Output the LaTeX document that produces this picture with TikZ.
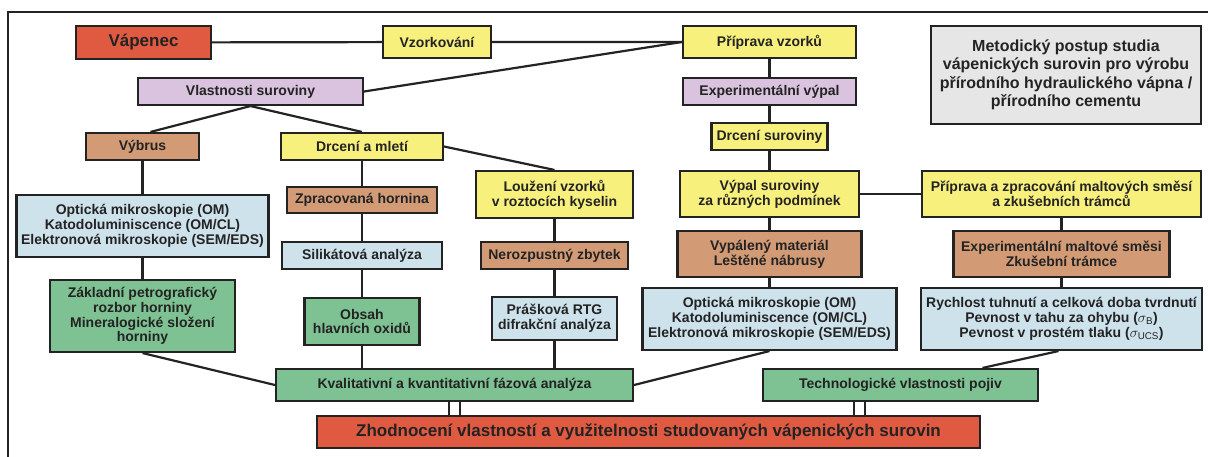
\documentclass[tikz,border=0pt]{standalone}
\usepackage{fontspec}
\setmainfont{Liberation Sans}
\usetikzlibrary{positioning}

\definecolor{redbox}{RGB}{224,90,66}
\definecolor{yelbox}{RGB}{248,240,125}
\definecolor{lilbox}{RGB}{217,195,222}
\definecolor{brnbox}{RGB}{210,155,118}
\definecolor{blubox}{RGB}{206,226,236}
\definecolor{grnbox}{RGB}{126,193,146}
\definecolor{grybox}{RGB}{230,230,230}
\definecolor{ink}{RGB}{35,35,35}

\tikzset{
  box/.style={draw=ink, line width=2.1pt, text=ink, align=center, inner sep=0pt,
    font=\bfseries\fontsize{14}{14.8}\selectfont},
  big/.style={font=\bfseries\fontsize{17}{18}\selectfont},
  link/.style={draw=ink, line width=2.2pt},
  twin/.style={draw=ink, double=white, double distance=8.5pt, line width=2pt}
}

\begin{document}
\begin{tikzpicture}[x=1pt,y=-1pt]
  \useasboundingbox (0,0) rectangle (1208,457);
  \fill[white] (0,0) rectangle (1208,457);
  \draw[ink, line width=2.2pt] (8,460) -- (8,12) -- (1212,12);

  % top row
  \node[box, big, fill=redbox, minimum width=135, minimum height=33] (vapenec) at (143.5,42.5) {Vápenec};
  \node[box, fill=yelbox, minimum width=108, minimum height=32] (vzork) at (437,42) {Vzorkování};
  \node[box, fill=yelbox, minimum width=173, minimum height=32] (priprava) at (769.5,42) {Příprava vzorků};
  \node[box, fill=grybox, minimum width=270, minimum height=98,
        font=\bfseries\fontsize{16}{18.5}\selectfont] (title) at (1066,75)
        {Metodický postup studia\\vápenických surovin pro výrobu\\přírodního hydraulického vápna /\\přírodního cementu};

  % left branch
  \node[box, fill=lilbox, minimum width=225, minimum height=27] (vlast) at (250.5,91.5) {Vlastnosti suroviny};
  \node[box, fill=brnbox, minimum width=113, minimum height=27] (vybrus) at (142.5,146.5) {Výbrus};
  \node[box, fill=yelbox, minimum width=162, minimum height=27] (drcmlet) at (362,146.5) {Drcení a mletí};
  \node[box, fill=blubox, minimum width=252, minimum height=62] (optl) at (142.5,226)
        {Optická mikroskopie (OM)\\Katodoluminiscence (OM/CL)\\Elektronová mikroskopie (SEM/EDS)};
  \node[box, fill=grnbox, minimum width=185, minimum height=72] (zakl) at (142.5,316)
        {Základní petrografický\\rozbor horniny\\Mineralogické složení\\horniny};
  \node[box, fill=brnbox, minimum width=150, minimum height=26] (zprac) at (362,200) {Zpracovaná hornina};
  \node[box, fill=blubox, minimum width=160, minimum height=27] (silik) at (362,255.5) {Silikátová analýza};
  \node[box, fill=grnbox, minimum width=115, minimum height=47] (obsah) at (362,321.5) {Obsah\\hlavních oxidů};
  \node[box, fill=yelbox, minimum width=157, minimum height=47] (louz) at (554.5,194.5) {Loužení vzorků\\v roztocích kyselin};
  \node[box, fill=brnbox, minimum width=147, minimum height=27] (neroz) at (554.5,255.5) {Nerozpustný zbytek};
  \node[box, fill=blubox, minimum width=125, minimum height=43] (rtg) at (554.5,318.5) {Prášková RTG\\difrakční analýza};

  % right branch
  \node[box, fill=lilbox, minimum width=173, minimum height=27] (expvypal) at (769.5,91.5) {Experimentální výpal};
  \node[box, fill=yelbox, minimum width=116, minimum height=27] (drcsur) at (769.5,136.5) {Drcení suroviny};
  \node[box, fill=yelbox, minimum width=179, minimum height=46] (vypal) at (769.5,194) {Výpal suroviny\\za různých podmínek};
  \node[box, fill=brnbox, minimum width=184, minimum height=46] (vypmat) at (769.5,254) {Vypálený materiál\\Leštěné nábrusy};
  \node[box, fill=blubox, minimum width=254, minimum height=62] (optr) at (769.5,319)
        {Optická mikroskopie (OM)\\Katodoluminiscence (OM/CL)\\Elektronová mikroskopie (SEM/EDS)};
  \node[box, fill=yelbox, minimum width=279, minimum height=46] (maltp) at (1061.5,194)
        {Příprava a zpracování maltových směsí\\a zkušebních trámců};
  \node[box, fill=brnbox, minimum width=216, minimum height=46] (expmalt) at (1061.5,254)
        {Experimentální maltové směsi\\Zkušební trámce};
  \node[box, fill=blubox, minimum width=281, minimum height=62] (rychl) at (1061.5,319)
        {Rychlost tuhnutí a celková doba tvrdnutí\\Pevnost v tahu za ohybu ($\sigma_{\mathrm{B}}$)\\Pevnost v prostém tlaku ($\sigma_{\mathrm{UCS}}$)};

  % results
  \node[box, fill=grnbox, minimum width=357, minimum height=32] (kval) at (454.5,385) {Kvalitativní a kvantitativní fázová analýza};
  \node[box, fill=grnbox, minimum width=275, minimum height=32] (techn) at (900.5,385) {Technologické vlastnosti pojiv};
  \node[box, big, fill=redbox, minimum width=663, minimum height=32] (zhodn) at (648.5,432)
        {Zhodnocení vlastností a využitelnosti studovaných vápenických surovin};

  % connectors
  \draw[link] (vapenec) -- (vzork) -- (priprava);
  \draw[link] (vlast.east) -- (priprava.west);
  \draw[link] (priprava) -- (expvypal) -- (drcsur) -- (vypal) -- (vypmat) -- (optr);
  \draw[link] (vlast.south) -- ([xshift=8pt]vybrus.north);
  \draw[link] (vlast.south) -- (drcmlet.north);
  \draw[link] (vybrus) -- (optl) -- (zakl);
  \draw[link] (drcmlet) -- (zprac) -- (silik) -- (obsah);
  \draw[link] (obsah.south) -- (obsah.south |- kval.north);
  \draw[link] (drcmlet.east) -- (louz.north);
  \draw[link] (louz) -- (neroz) -- (rtg);
  \draw[link] (rtg.south) -- (rtg.south |- kval.north);
  \draw[link] (zakl.south) -- (kval.west);
  \draw[link] (optr.south) -- (kval.east);
  \draw[link] (vypal) -- (maltp);
  \draw[link] (maltp) -- (expmalt) -- (rychl);
  \draw[link] ([xshift=-3pt]rychl.south) -- ([xshift=82pt]techn.north);
  \draw[twin] (kval.south) -- (kval.south |- zhodn.north);
  \draw[twin] ([xshift=-41pt]techn.south) -- ([xshift=-41pt]techn.south |- zhodn.north);
\end{tikzpicture}
\end{document}
